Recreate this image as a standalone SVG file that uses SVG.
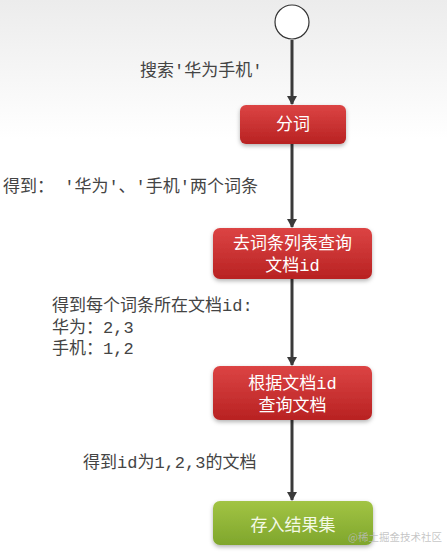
<svg xmlns="http://www.w3.org/2000/svg" width="447" height="557" viewBox="0 0 447 557">
<defs>
<linearGradient id="bg" x1="0" y1="0" x2="0" y2="1">
<stop offset="0" stop-color="#ececec"/>
<stop offset="0.25" stop-color="#ffffff"/>
<stop offset="1" stop-color="#ffffff"/>
</linearGradient>
<linearGradient id="red" x1="0" y1="0" x2="0" y2="1">
<stop offset="0" stop-color="#dc4444"/>
<stop offset="1" stop-color="#b82222"/>
</linearGradient>
<linearGradient id="green" x1="0" y1="0" x2="0" y2="1">
<stop offset="0" stop-color="#a2c444"/>
<stop offset="1" stop-color="#7fa62c"/>
</linearGradient>
<filter id="sh" x="-10%" y="-20%" width="120%" height="150%">
<feDropShadow dx="0" dy="2" stdDeviation="2" flood-color="#000" flood-opacity="0.3"/>
</filter>
<marker id="arr" markerWidth="10" markerHeight="10" refX="8" refY="5" orient="auto" markerUnits="userSpaceOnUse">
<path d="M0,0 L9,5 L0,10 z" fill="#3a3a3a"/>
</marker>
</defs>
<style>
.lbl{font-family:"Liberation Mono","Noto Sans CJK SC",monospace;font-size:17px;fill:#444}
.nt{font-family:"Liberation Mono","Noto Sans CJK SC",monospace;font-size:17px;fill:#ffffff;text-anchor:middle}
.edge{stroke:#3a3a3a;stroke-width:3;fill:none;marker-end:url(#arr)}
</style>
<rect width="447" height="557" fill="url(#bg)"/>
<g id="connectors">
<line class="edge" x1="292" y1="40" x2="292" y2="104"/>
<line class="edge" x1="292" y1="144" x2="292" y2="227"/>
<line class="edge" x1="292" y1="279" x2="292" y2="365"/>
<line class="edge" x1="292" y1="420" x2="292" y2="500"/>
</g>
<g id="labels">
<text class="lbl" x="140" y="76">搜索'华为手机'</text>
<text class="lbl" x="3" y="192">得到： '华为'、'手机'两个词条</text>
<text class="lbl" x="52" y="311">得到每个词条所在文档id:</text>
<text class="lbl" x="52" y="333">华为：2,3</text>
<text class="lbl" x="52" y="354">手机：1,2</text>
<text class="lbl" x="83" y="468">得到id为1,2,3的文档</text>
</g>
<g id="start">
<circle cx="292" cy="22" r="17" fill="#ffffff" stroke="#333" stroke-width="1.2"/>
</g>
<g id="n1">
<rect x="240" y="105" width="106" height="39" rx="6" fill="url(#red)" filter="url(#sh)"/>
<text class="nt" x="293" y="130">分词</text>
</g>
<g id="n2">
<rect x="213" y="228" width="159" height="51" rx="7" fill="url(#red)" filter="url(#sh)"/>
<text class="nt" x="292.5" y="249">去词条列表查询</text>
<text class="nt" x="292.5" y="271">文档id</text>
</g>
<g id="n3">
<rect x="213" y="366" width="159" height="54" rx="7" fill="url(#red)" filter="url(#sh)"/>
<text class="nt" x="292.5" y="389">根据文档id</text>
<text class="nt" x="292.5" y="411">查询文档</text>
</g>
<g id="n4">
<rect x="213" y="501" width="160" height="44" rx="7" fill="url(#green)" filter="url(#sh)"/>
<text class="nt" x="293" y="531" style="fill:#f4f9e6">存入结果集</text>
</g>
<text x="348" y="541" font-family="'Noto Sans CJK SC',sans-serif" font-size="10.5" fill="#bbbbbb" fill-opacity="0.85">@稀土掘金技术社区</text>
</svg>
